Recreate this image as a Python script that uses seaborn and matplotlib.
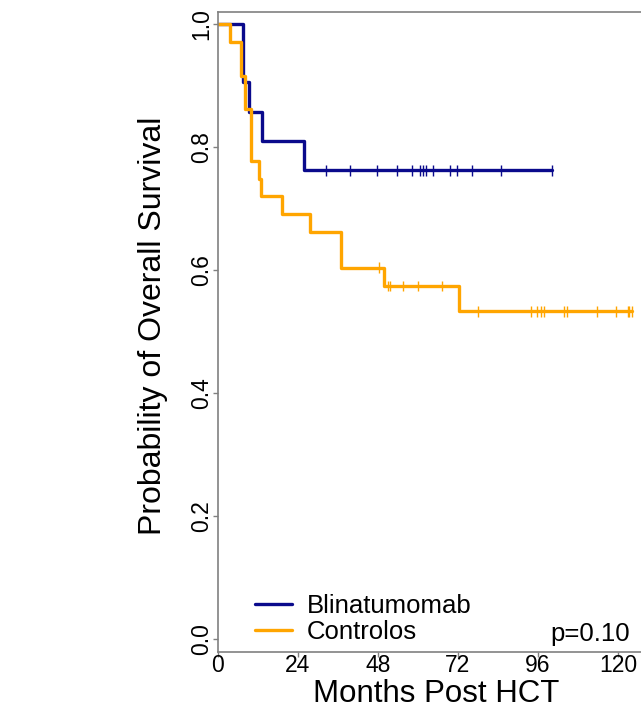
import numpy as np
import pandas as pd
import matplotlib
matplotlib.use("Agg")
import matplotlib.pyplot as plt
import seaborn as sns
from matplotlib.lines import Line2D

# ---- data ----
groups = ["Blinatumomab", "Controlos"]
blin_times = [0, 7.5, 9.4, 13.2, 25.9, 100.1]
blin_surv = [1.0, 0.905, 0.857, 0.810, 0.762, 0.762]
blin_censor = [32.4, 39.6, 47.6, 53.8, 58.1, 60.6, 61.4, 62.3, 64.4, 69.6,
               71.7, 76.3, 84.8, 100.1]

ctrl_times = [0, 3.5, 7.0, 8.2, 9.9, 12.4, 13.0, 19.3, 27.6, 36.8, 49.9, 72.3, 124.1]
ctrl_surv = [1.0, 0.971, 0.916, 0.861, 0.777, 0.748, 0.720, 0.691, 0.662,
             0.604, 0.574, 0.533, 0.533]
ctrl_censor = [48.4, 51.1, 51.6, 55.4, 60.1, 67.1, 78.1, 93.9, 95.8, 96.8,
               97.9, 103.8, 104.6, 113.8, 119.4, 122.9, 123.4, 124.1]

x_ticks = [0, 24, 48, 72, 96, 120]
y_ticks = [0.0, 0.2, 0.4, 0.6, 0.8, 1.0]
p_text = "p=0.10"
colors = {"Blinatumomab": "#0a0a8c", "Controlos": "#ffa500"}

# ---- build tables ----
curve = pd.concat([
    pd.DataFrame({"t": blin_times, "s": blin_surv, "g": groups[0]}),
    pd.DataFrame({"t": ctrl_times, "s": ctrl_surv, "g": groups[1]}),
], ignore_index=True)


def step_value(times, surv, t):
    idx = np.searchsorted(times, t, side="right") - 1
    return surv[max(idx, 0)]


cens = pd.concat([
    pd.DataFrame({"t": blin_censor,
                  "s": [step_value(blin_times, blin_surv, t) for t in blin_censor],
                  "g": groups[0]}),
    pd.DataFrame({"t": ctrl_censor,
                  "s": [step_value(ctrl_times, ctrl_surv, t) for t in ctrl_censor],
                  "g": groups[1]}),
], ignore_index=True)

sns.set_theme(style="white")
plt.rcParams["font.family"] = ["Liberation Sans", "DejaVu Sans"]
plt.rcParams["text.color"] = "black"
plt.rcParams["axes.labelcolor"] = "black"

W, H = 641, 708
fig = plt.figure(figsize=(W / 100, H / 100), dpi=100)
ax = fig.add_axes([218 / W, 1 - 652 / H, 1 - 218 / W, (652 - 12) / H])

sns.lineplot(data=curve, x="t", y="s", hue="g", palette=colors,
             drawstyle="steps-post", estimator=None, linewidth=2.4,
             ax=ax, legend=False)
sns.scatterplot(data=cens, x="t", y="s", hue="g", palette=colors,
                marker="|", s=60, linewidth=1.0, ax=ax, legend=False)

ax.set_xlim(0, (641 - 218) / 3.333)
ax.set_ylim(-0.021, 1.0195)
ax.set_xticks(x_ticks)
ax.set_xticklabels([str(v) for v in x_ticks], fontsize=16.5)
ax.set_yticks(y_ticks)
ax.set_yticklabels([f"{v:.1f}" for v in y_ticks], fontsize=16.5,
                   rotation=90, va="center")
ax.tick_params(axis="both", direction="out", length=3.8, width=1,
               color="#808080", labelcolor="black", bottom=True, left=True)
ax.tick_params(axis="x", pad=-2.0)
ax.tick_params(axis="y", pad=-0.3)
for side in ["left", "top", "bottom"]:
    ax.spines[side].set_color("#808080")
    ax.spines[side].set_linewidth(1.2)
ax.spines["right"].set_visible(False)

ax.set_xlabel("Months Post HCT", fontsize=22.5)
ax.xaxis.label.set_va("baseline")
ax.set_ylabel("Probability of Overall Survival", fontsize=23)
ax.xaxis.set_label_coords((436 - 218) / (641 - 218), (652 - 701.5) / 640)
ax.yaxis.set_label_coords(-0.118, 0.51)

handles = [Line2D([0], [0], color=colors[g], lw=2.4) for g in groups]
ax.legend(handles, groups, loc="lower left", frameon=False, fontsize=18.5,
          bbox_to_anchor=(0.0875, 0.012), handlelength=1.44, handletextpad=0.57,
          labelspacing=0.08, borderpad=0.0, borderaxespad=0.0)

ax.text(123.6, -0.003, p_text, ha="right", va="baseline", fontsize=18.5)

fig.savefig("out.png", dpi=100)
